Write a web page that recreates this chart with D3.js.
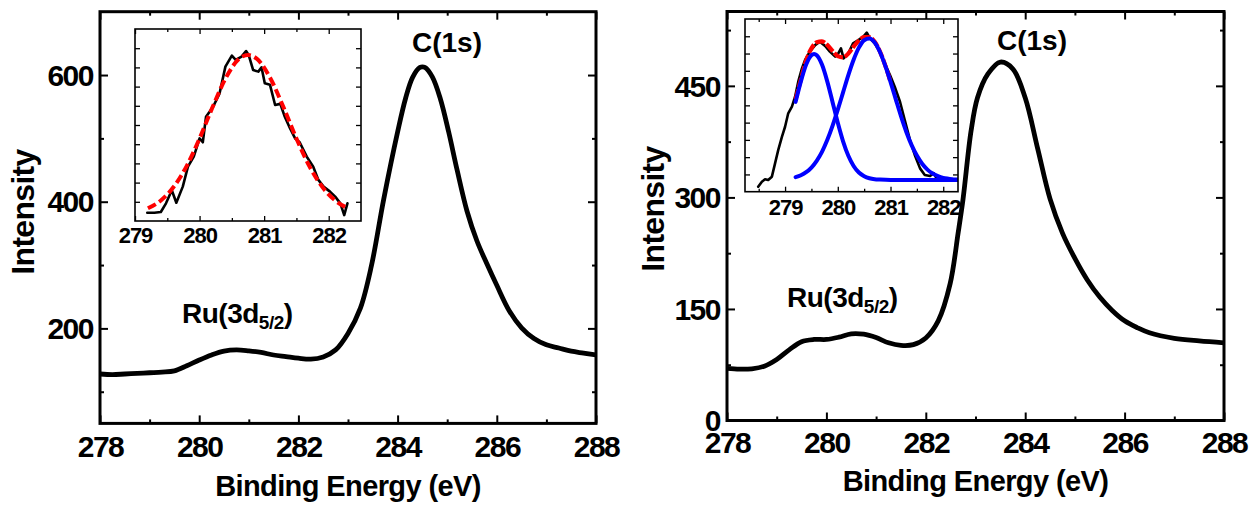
<!DOCTYPE html>
<html><head><meta charset="utf-8">
<script src="https://cdn.jsdelivr.net/npm/d3@7"></script>
<style>
html,body{margin:0;padding:0;background:#fff;}
svg text{font-family:"Liberation Sans",Arial,Helvetica,sans-serif;font-weight:bold;fill:#000;}
</style></head><body>
<svg id="chart" width="1258" height="505"></svg>
<script>
// ---------- tick values ----------
const xTicks = [278, 280, 282, 284, 286, 288];
const xMinor = [279, 281, 283, 285, 287];
const leftYTicks = [200, 400, 600];
const leftYMinor = [100, 300, 500];
const rightYTicks = [0, 150, 300, 450];
const rightYMinor = [75, 225, 375, 525];
const insetXTicks = [279, 280, 281, 282];
const leftInsetXMinor = [279.5, 280.5, 281.5];
const rightInsetXMinor = [278.5, 279.5, 280.5, 281.5];
const insetYTicks = [10, 20, 30, 40, 50, 60, 70, 80, 90];

// ---------- sample 1: full XPS scan ----------
const leftEnergy = [278.0, 278.25, 278.5, 278.75, 279.0, 279.25, 279.5, 279.75, 280.0, 280.25, 280.5, 280.75,
  281.0, 281.25, 281.5, 281.75, 282.0, 282.25, 282.5, 282.75, 283.0, 283.25, 283.47, 283.72, 284.0, 284.16,
  284.3, 284.45, 284.55, 284.7, 284.86, 285.03, 285.2, 285.4, 285.6, 285.8, 286.0, 286.25, 286.5, 286.75, 287.0,
  287.25, 287.5, 287.75, 288.0];
const leftCounts = [128, 127, 128, 129, 130, 131, 133, 141, 150, 158, 164, 166,
  164.5, 162, 158, 155.5, 153, 151.5, 155, 166, 192, 232, 298, 404, 510, 563,
  596, 612, 612, 597, 563, 510, 450, 385, 338, 302, 268, 228, 201, 184, 174,
  169, 164, 161, 158];

// ---------- sample 2: full XPS scan ----------
const rightEnergy = [278.0, 278.25, 278.5, 278.75, 279.0, 279.25, 279.5, 279.75, 280.0, 280.25, 280.5, 280.75,
  281.0, 281.25, 281.5, 281.75, 282.0, 282.25, 282.49, 282.65, 282.75, 282.91, 283.04, 283.25, 283.5, 283.75,
  284.0, 284.25, 284.5, 284.75, 285.0, 285.25, 285.5, 285.75, 286.0, 286.25, 286.5, 287.0, 287.5, 288.0];
const rightCounts = [70, 69, 69.5, 73, 82, 95, 106, 109, 109, 112, 116.5, 116,
  111.5, 104.5, 101, 102, 111, 134, 184, 252, 298, 389, 434, 466, 482, 473,
  434, 366, 298, 252, 218, 189, 166, 148, 134, 125, 118, 110.5, 107, 104.5];

// ---------- sample 1 inset: Ru 3d5/2 region ----------
const leftInsetEnergy = [279.19, 279.3, 279.4, 279.48, 279.57, 279.64, 279.74, 279.82, 279.91, 280.0, 280.05,
  280.1, 280.21, 280.31, 280.4, 280.5, 280.56, 280.65, 280.72, 280.76, 280.83, 280.91, 280.96, 281.01, 281.09,
  281.17, 281.25, 281.32, 281.4, 281.48, 281.55, 281.66, 281.76, 281.84, 281.92, 282.02, 282.1, 282.18, 282.24, 282.29];
const leftInsetCounts = [4.3, 4.3, 4.7, 9.2, 16, 9.5, 17.9, 28.3, 33.5, 43, 41,
  54.3, 59.5, 66.5, 80.4, 86.1, 83.9, 85.6, 88.5, 86.5, 78.6, 77.8, 80, 71.7, 71,
  60.4, 61, 54.3, 48.3, 43, 41, 33.5, 28.3, 21.4, 17.9, 15.3, 12.7, 9.2, 3.1, 9.2];
const leftFitEnergy = [279.2, 279.4, 279.6, 279.8, 280.0, 280.2, 280.4, 280.6, 280.75, 280.9, 281.1, 281.3,
  281.5, 281.7, 281.9, 282.1, 282.3];
const leftFitCounts = [6.6, 10.7, 17.8, 28.6, 43.0, 59.2, 74.1, 84.1, 86.5, 84.1, 74.1, 59.2,
  43.0, 28.6, 17.8, 10.7, 6.6];

// ---------- sample 2 inset: Ru 3d5/2 region, two components ----------
const rightInsetEnergy = [278.49, 278.56, 278.62, 278.68, 278.75, 278.81, 278.87, 278.94, 279.0, 279.06, 279.13,
  279.19, 279.25, 279.32, 279.38, 279.47, 279.57, 279.66, 279.76, 279.85, 279.95, 280.01, 280.06, 280.11, 280.2,
  280.29, 280.39, 280.48, 280.55, 280.61, 280.7, 280.8, 280.89, 280.99, 281.08, 281.18, 281.27, 281.37, 281.46,
  281.56, 281.65, 281.75, 281.82, 281.87];
const rightInsetCounts = [2.9, 5.8, 7.2, 6.8, 8.7, 16.4, 24.1, 31.8, 37.6, 45.4, 49.2,
  55, 63.7, 71.4, 76.3, 81.1, 84.9, 86.9, 84.4, 81.1, 78.2, 80.1, 83, 77.2, 80.1,
  85.9, 87.8, 89.7, 92.1, 88.8, 85.9, 81.1, 74.3, 67.6, 60.8, 52.1, 41.5, 29.9, 21.3,
  13.5, 9.7, 9.1, 10.7, 7.8];
const rightFitEnergy = [279.2, 279.3, 279.4, 279.5, 279.6, 279.7, 279.8, 279.9, 280.0, 280.1, 280.2, 280.3,
  280.4, 280.5, 280.6, 280.7, 280.8, 280.9, 281.0];
const rightFitCounts = [53.5, 65, 76, 83, 86.5, 87, 85, 81.5, 78.5, 77.8, 80, 84,
  87.5, 89.5, 89.5, 86.8, 81.1, 73.1, 63.6];
const peakAEnergy = [279.2, 279.3, 279.4, 279.5, 279.55, 279.6, 279.7, 279.8, 279.9, 280.0, 280.1, 280.2,
  280.3, 280.4, 280.5, 280.6, 280.7, 280.8, 281.0, 281.5, 282.0, 282.3];
const peakACounts = [52.0, 63.9, 73.6, 79.0, 79.7, 79.0, 73.6, 63.9, 52.0, 39.9, 29.2, 20.8,
  14.9, 11.1, 9.0, 7.8, 7.2, 7.0, 6.8, 6.8, 6.8, 6.8];
const peakBEnergy = [279.2, 279.3, 279.4, 279.5, 279.6, 279.7, 279.8, 279.9, 280.0, 280.1, 280.2, 280.3,
  280.4, 280.5, 280.6, 280.7, 280.8, 280.9, 281.0, 281.1, 281.2, 281.3, 281.4, 281.5, 281.6, 281.7,
  281.8, 281.9, 282.0, 282.1, 282.2, 282.3];
const peakBCounts = [8.4, 9.5, 11.3, 14.0, 17.9, 23.1, 29.9, 38.1, 47.5, 57.5, 67.5, 76.4,
  83.4, 87.7, 88.7, 86.4, 80.9, 73.0, 63.6, 53.5, 43.6, 34.6, 27.0, 20.9, 16.2, 12.8,
  10.5, 9.0, 8.0, 7.5, 7.1, 7.0];

// ---------- helpers ----------
const svg = d3.select("#chart");
const zip = (xs, ys) => xs.map((v, i) => [v, ys[i]]);
let clipId = 0;

function styleAxis(sel, fontSize, spacing, tickWidth) {
  sel.attr("font-size", null).attr("font-family", null);
  sel.select(".domain").remove();
  sel.selectAll(".tick line").attr("stroke", "#000").attr("stroke-width", tickWidth);
  sel.selectAll("text").attr("font-size", fontSize).style("letter-spacing", spacing + "px");
}

// Draws a framed box with inward ticks on all four sides
function frame(g, x, y, o) {
  const [x0, x1] = x.range();
  const [y1, y0] = y.range();
  const add = (axis, tr, showLabels) => {
    const a = g.append("g").attr("transform", tr).call(axis);
    styleAxis(a, o.fontSize, o.spacing, o.tickWidth);
    if (!showLabels) a.selectAll("text").remove();
    return a;
  };
  add(d3.axisBottom(x).tickValues(o.xTicks).tickSize(-o.major).tickPadding(o.xPad).tickFormat(d3.format("d")),
      `translate(0,${y1})`, true);
  add(d3.axisBottom(x).tickValues(o.xMinor).tickSize(-o.minor), `translate(0,${y1})`, false);
  add(d3.axisTop(x).tickValues(o.xTicks).tickSize(-o.major), `translate(0,${y0})`, false);
  add(d3.axisTop(x).tickValues(o.xMinor).tickSize(-o.minor), `translate(0,${y0})`, false);
  const left = add(d3.axisLeft(y).tickValues(o.yTicks).tickSize(-o.major).tickPadding(o.yPad).tickFormat(d3.format("d")),
      `translate(${x0},0)`, o.yLabels);
  left.selectAll("text").attr("dy", "0.34em");
  if (o.yMinor.length) add(d3.axisLeft(y).tickValues(o.yMinor).tickSize(-o.minor), `translate(${x0},0)`, false);
  add(d3.axisRight(y).tickValues(o.yTicks).tickSize(-o.major), `translate(${x1},0)`, false);
  if (o.yMinor.length) add(d3.axisRight(y).tickValues(o.yMinor).tickSize(-o.minor), `translate(${x1},0)`, false);
  g.append("rect").attr("x", x0).attr("y", y0).attr("width", x1 - x0).attr("height", y1 - y0)
    .attr("fill", "none").attr("stroke", "#000").attr("stroke-width", o.frameWidth);
}

function clipFor(g, x, y) {
  const id = "clip" + (clipId++);
  const [x0, x1] = x.range();
  const [y1, y0] = y.range();
  svg.append("defs").append("clipPath").attr("id", id)
    .append("rect").attr("x", x0).attr("y", y0).attr("width", x1 - x0).attr("height", y1 - y0);
  return g.append("g").attr("clip-path", `url(#${id})`);
}

function trace(g, x, y, pts, color, width, curve, dash) {
  const line = d3.line().x(d => x(d[0])).y(d => y(d[1])).curve(curve);
  const p = g.append("path").datum(pts).attr("d", line).attr("fill", "none")
    .attr("stroke", color).attr("stroke-width", width)
    .attr("stroke-linejoin", "round").attr("stroke-linecap", "round");
  if (dash) p.attr("stroke-dasharray", dash).attr("stroke-linecap", "butt");
  return p;
}

function peakLabels(g, cx, cy, rx, ry) {
  g.append("text").attr("x", cx).attr("y", cy).attr("text-anchor", "middle")
    .attr("font-size", 28).text("C(1s)");
  const t = g.append("text").attr("x", rx).attr("y", ry).attr("font-size", 28).style("letter-spacing", "-0.5px");
  t.append("tspan").text("Ru(3d");
  t.append("tspan").attr("font-size", 19).attr("dy", 6).text("5/2");
  t.append("tspan").attr("dy", -6).text(")");
}

function mainPanel(o) {
  const g = svg.append("g");
  const x = d3.scaleLinear().domain([278, 288]).range([o.x0, o.x1]);
  const y = d3.scaleLinear().domain(o.yDomain).range([o.y1, o.y0]);
  const body = clipFor(g, x, y);
  trace(body, x, y, zip(o.energy, o.counts), "#000", 4.8, d3.curveCatmullRom);
  frame(g, x, y, {
    xTicks, xMinor, yTicks: o.yTicks, yMinor: o.yMinor, major: 8, minor: 4,
    xPad: o.xPad, yPad: 7, fontSize: 30, spacing: -1.5, tickWidth: 2, frameWidth: 3, yLabels: true
  });
  g.append("text").attr("x", (o.x0 + o.x1) / 2).attr("y", o.titleY).attr("text-anchor", "middle")
    .attr("font-size", 29).style("letter-spacing", "-0.6px").text("Binding Energy (eV)");
  g.append("text").attr("transform", `translate(${o.ylabX},${o.ylabY}) rotate(-90)`)
    .attr("text-anchor", "middle").attr("font-size", 32).style("letter-spacing", "-0.7px").text("Intensity");
  return g;
}

function insetPanel(o) {
  const g = svg.append("g");
  const x = d3.scaleLinear().domain(o.xDomain).range([o.x0, o.x1]);
  const y = d3.scaleLinear().domain([0, 100]).range([o.y1, o.y0]);
  g.append("rect").attr("x", o.x0).attr("y", o.y0).attr("width", o.x1 - o.x0).attr("height", o.y1 - o.y0)
    .attr("fill", "#fff");
  const body = clipFor(g, x, y);
  o.draw(body, x, y);
  frame(g, x, y, {
    xTicks: insetXTicks, xMinor: o.xMinor, yTicks: insetYTicks, yMinor: [], major: 5, minor: 3,
    xPad: o.xPad, yPad: 4, fontSize: 22, spacing: -1, tickWidth: 1.3, frameWidth: 1.6, yLabels: false
  });
}

// ---------- left chart ----------
const leftG = mainPanel({
  x0: 100, x1: 596, y0: 11.7, y1: 423.4, yDomain: [50, 700],
  yTicks: leftYTicks, yMinor: leftYMinor, energy: leftEnergy, counts: leftCounts,
  xPad: 12, titleY: 496, ylabX: 34, ylabY: 212
});
insetPanel({
  x0: 135, x1: 361, y0: 29, y1: 221, xDomain: [279, 282.5], xMinor: leftInsetXMinor, xPad: 6.5,
  draw: (g, x, y) => {
    trace(g, x, y, zip(leftInsetEnergy, leftInsetCounts), "#000", 2.6, d3.curveLinear);
    trace(g, x, y, zip(leftFitEnergy, leftFitCounts), "#ff0000", 4, d3.curveMonotoneX, "9,4");
  }
});
peakLabels(leftG, 447, 52, 182, 323);

// ---------- right chart ----------
const rightG = mainPanel({
  x0: 727, x1: 1224, y0: 11.5, y1: 420.5, yDomain: [0, 550],
  yTicks: rightYTicks, yMinor: rightYMinor, energy: rightEnergy, counts: rightCounts,
  xPad: 11.5, titleY: 491, ylabX: 664, ylabY: 209
});
insetPanel({
  x0: 745, x1: 958, y0: 19, y1: 191.7, xDomain: [278.24, 282.28], xMinor: rightInsetXMinor, xPad: 7.5,
  draw: (g, x, y) => {
    trace(g, x, y, zip(rightInsetEnergy, rightInsetCounts), "#000", 2.6, d3.curveLinear);
    trace(g, x, y, zip(rightFitEnergy, rightFitCounts), "#ff0000", 4.2, d3.curveMonotoneX, "10,2");
    trace(g, x, y, zip(peakAEnergy, peakACounts), "#0000ff", 4, d3.curveMonotoneX);
    trace(g, x, y, zip(peakBEnergy, peakBCounts), "#0000ff", 4, d3.curveMonotoneX);
  }
});
peakLabels(rightG, 1032, 50, 787, 307);
</script>
</body></html>
